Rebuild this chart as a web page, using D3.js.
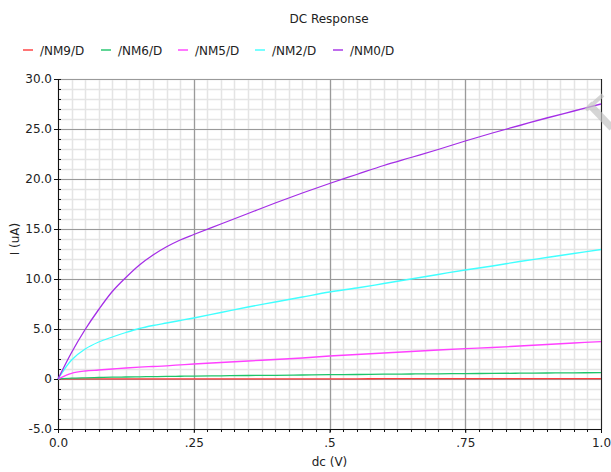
<!DOCTYPE html>
<html>
<head>
<meta charset="utf-8">
<script src="https://cdn.jsdelivr.net/npm/d3@7"></script>
<style>
  body { margin: 0; background: #fff; }
  svg { display: block; font-family: "DejaVu Sans", sans-serif; }
</style>
</head>
<body>
<svg id="chart" width="611" height="472"></svg>
<script>
// sweep values (V)
const dcV = [0, 0.025, 0.05, 0.075, 0.1, 0.125, 0.15, 0.175, 0.2, 0.225, 0.25, 0.3, 0.35, 0.4,
    0.45, 0.5, 0.55, 0.6, 0.65, 0.7, 0.75, 0.8, 0.85, 0.9, 0.95, 1.0]

// drain currents (uA)
const nm9 = [0, 0.01, 0.01, 0.01, 0.01, 0.01, 0.01, 0.01, 0.02, 0.02, 0.02, 0.02, 0.02, 0.02,
    0.02, 0.02, 0.02, 0.03, 0.03, 0.03, 0.03, 0.03, 0.03, 0.03, 0.03, 0.03]
const nm6 = [0, 0.08, 0.12, 0.15, 0.18, 0.2, 0.22, 0.24, 0.26, 0.275, 0.29, 0.32, 0.35, 0.37,
    0.4, 0.43, 0.45, 0.48, 0.5, 0.52, 0.54, 0.56, 0.58, 0.6, 0.62, 0.63]
const nm5 = [0, 0.57, 0.8, 0.9, 1.0, 1.1, 1.18, 1.25, 1.32, 1.41, 1.5, 1.65, 1.8, 1.95,
    2.1, 2.3, 2.45, 2.6, 2.75, 2.9, 3.03, 3.15, 3.3, 3.45, 3.6, 3.73]
const nm2 = [0, 1.9, 3.0, 3.7, 4.2, 4.65, 5.05, 5.35, 5.6, 5.85, 6.1, 6.65, 7.2, 7.7,
    8.2, 8.7, 9.1, 9.55, 10.0, 10.45, 10.9, 11.3, 11.75, 12.15, 12.55, 12.95]
const nm0 = [0, 2.65, 4.95, 6.95, 8.75, 10.15, 11.4, 12.4, 13.22, 13.9, 14.45, 15.5, 16.55, 17.6,
    18.6, 19.55, 20.45, 21.35, 22.15, 22.95, 23.8, 24.6, 25.35, 26.1, 26.8, 27.5]

const seriesNames = ['/NM9/D', '/NM6/D', '/NM5/D', '/NM2/D', '/NM0/D']
const seriesValues = [nm9, nm6, nm5, nm2, nm0]
const seriesColors = ['#ff3b3b', '#1ec46a', '#ff40ff', '#40ffff', '#a42ee6']

const xTickValues = [0, 0.25, 0.5, 0.75, 1.0]
const xTickLabels = ['0.0', '.25', '.5', '.75', '1.0']
const yTickValues = [-5, 0, 5, 10, 15, 20, 25, 30]
const yTickLabels = ['-5.0', '0', '5.0', '10.0', '15.0', '20.0', '25.0', '30.0']

const svg = d3.select('#chart')
const margin = { top: 79, right: 10, bottom: 43, left: 58 }
const width = 611, height = 472
const innerW = width - margin.left - margin.right
const innerH = height - margin.top - margin.bottom

const xScale = d3.scaleLinear().domain([0, 1]).range([0, innerW])
const yScale = d3.scaleLinear().domain([-5, 30]).range([innerH, 0])

svg.append('text')
    .attr('x', 329).attr('y', 23)
    .attr('text-anchor', 'middle')
    .attr('font-size', 12)
    .attr('fill', '#222')
    .text('DC Response')

// legend
const legend = svg.append('g').attr('transform', 'translate(23,50)')
const legendX = [0, 78, 155, 232, 310]
seriesNames.forEach((name, i) => {
    const g = legend.append('g').attr('transform', `translate(${ legendX[i] },0)`)
    g.append('line').attr('x1', 0).attr('x2', 10).attr('y1', 0).attr('y2', 0)
        .attr('stroke', seriesColors[i]).attr('stroke-width', 2).attr('opacity', 0.7)
    g.append('text').attr('x', 17).attr('y', 4.5)
        .attr('font-size', 12).attr('fill', '#222').text(name)
})

const g = svg.append('g').attr('transform', `translate(${ margin.left },${ margin.top })`)

// minor grid
const xMinor = d3.range(0, 41).map(i => i * 0.025)
const yMinor = d3.range(-5, 31)
g.append('g').selectAll('line').data(xMinor).join('line')
    .attr('x1', d => Math.round(xScale(d)) + 0.5).attr('x2', d => Math.round(xScale(d)) + 0.5)
    .attr('y1', 0).attr('y2', innerH)
    .attr('stroke', '#e4e4e4').attr('stroke-width', 1.5)
g.append('g').selectAll('line').data(yMinor).join('line')
    .attr('y1', d => Math.round(yScale(d)) + 0.5).attr('y2', d => Math.round(yScale(d)) + 0.5)
    .attr('x1', 0).attr('x2', innerW)
    .attr('stroke', '#e4e4e4').attr('stroke-width', 1.5)

// major grid
g.append('g').selectAll('line').data(xTickValues).join('line')
    .attr('x1', d => Math.round(xScale(d)) + 0.5).attr('x2', d => Math.round(xScale(d)) + 0.5)
    .attr('y1', 0).attr('y2', innerH)
    .attr('stroke', '#9a9a9a').attr('stroke-width', 1.2)
g.append('g').selectAll('line').data(yTickValues).join('line')
    .attr('y1', d => Math.round(yScale(d)) + 0.5).attr('y2', d => Math.round(yScale(d)) + 0.5)
    .attr('x1', 0).attr('x2', innerW)
    .attr('stroke', '#9a9a9a').attr('stroke-width', 1.2)

// right border
g.append('line').attr('x1', innerW + 0.5).attr('x2', innerW + 0.5)
    .attr('y1', 0).attr('y2', innerH).attr('stroke', '#222')

// axes
const xAxis = d3.axisBottom(xScale).tickValues(xTickValues)
    .tickFormat((d, i) => xTickLabels[i]).tickSize(4).tickPadding(5)
const yAxis = d3.axisLeft(yScale).tickValues(yTickValues)
    .tickFormat((d, i) => yTickLabels[i]).tickSize(4).tickPadding(2)

const xg = g.append('g').attr('transform', `translate(0,${ innerH })`).call(xAxis)
const yg = g.append('g').call(yAxis)
;[xg, yg].forEach(a => {
    a.select('.domain').attr('stroke', '#111')
    a.selectAll('.tick line').attr('stroke', '#111')
    a.selectAll('.tick text').attr('font-size', 12).attr('fill', '#222')
        .attr('font-family', '"DejaVu Sans", sans-serif')
})

// minor ticks
g.append('g').selectAll('line').data(xMinor).join('line')
    .attr('x1', d => Math.round(xScale(d)) + 0.5).attr('x2', d => Math.round(xScale(d)) + 0.5)
    .attr('y1', innerH).attr('y2', innerH + 3).attr('stroke', '#111')
g.append('g').selectAll('line').data(yMinor).join('line')
    .attr('y1', d => Math.round(yScale(d)) + 0.5).attr('y2', d => Math.round(yScale(d)) + 0.5)
    .attr('x1', 0).attr('x2', 3).attr('stroke', '#111')

// axis titles
svg.append('text')
    .attr('x', margin.left + innerW / 2).attr('y', 466)
    .attr('text-anchor', 'middle').attr('font-size', 12).attr('fill', '#222')
    .text('dc (V)')
svg.append('text')
    .attr('transform', `translate(19,${ margin.top + innerH / 2 - 15 }) rotate(-90)`)
    .attr('text-anchor', 'middle').attr('font-size', 12).attr('fill', '#222')
    .text('I (uA)')

// curves
const line = d3.line().x((d, i) => xScale(dcV[i])).y(d => yScale(d)).curve(d3.curveCatmullRom.alpha(0.5))
seriesValues.forEach((vals, i) => {
    g.append('path')
        .datum(vals)
        .attr('fill', 'none')
        .attr('stroke', seriesColors[i])
        .attr('stroke-width', 1.3)
        .attr('d', line)
})

// grey cursor mark in the top-right corner
const mark = svg.append('g').attr('stroke', '#c4c4c4').attr('opacity', 0.7).attr('stroke-linecap', 'butt')
mark.append('line').attr('x1', 589).attr('y1', 104).attr('x2', 612).attr('y2', 128).attr('stroke-width', 7)
mark.append('line').attr('x1', 586).attr('y1', 110).attr('x2', 603).attr('y2', 95).attr('stroke-width', 4)
</script>
</body>
</html>
